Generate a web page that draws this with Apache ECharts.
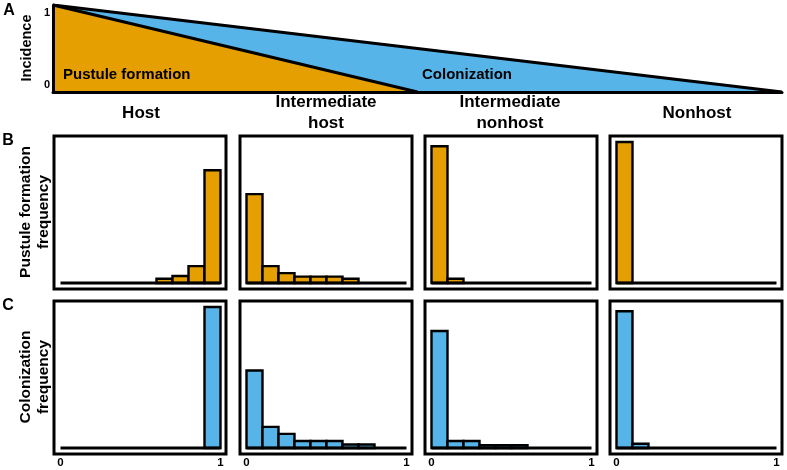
<!DOCTYPE html>
<html><head><meta charset="utf-8">
<script src="https://cdn.jsdelivr.net/npm/echarts@6/dist/echarts.min.js"></script>
<style>html,body{margin:0;padding:0;background:#fff}#c{width:787px;height:470px}</style>
</head><body><div id="c"></div>
<script>
// ---------- data ----------
const columns = ['Host', 'Intermediate\nhost', 'Intermediate\nnonhost', 'Nonhost'];
const rowLabels = ['Pustule formation\nfrequency', 'Colonization\nfrequency'];
const panelLetters = ['A', 'B', 'C'];
const binEdges = [0, 0.1, 0.2, 0.3, 0.4, 0.5, 0.6, 0.7, 0.8, 0.9, 1.0];
const pustuleHost       = [0, 0, 0, 0, 0, 0, 0.03, 0.05, 0.12, 0.80];
const pustuleIntHost    = [0.63, 0.12, 0.07, 0.045, 0.045, 0.045, 0.03, 0, 0, 0];
const pustuleIntNonhost = [0.97, 0.03, 0, 0, 0, 0, 0, 0, 0, 0];
const pustuleNonhost    = [1.0, 0, 0, 0, 0, 0, 0, 0, 0, 0];
const colonHost         = [0, 0, 0, 0, 0, 0, 0, 0, 0, 1.0];
const colonIntHost      = [0.55, 0.15, 0.10, 0.05, 0.05, 0.05, 0.025, 0.025, 0, 0];
const colonIntNonhost   = [0.83, 0.05, 0.05, 0.02, 0.02, 0.02, 0, 0, 0, 0];
const colonNonhost      = [0.97, 0.03, 0, 0, 0, 0, 0, 0, 0, 0];
// incidence gradient (panel A): [position along host range, incidence]
const pustuleIncidence = [[0, 1], [0.5, 0]];
const colonIncidence   = [[0, 1], [1, 0]];
const incidenceTicks = [0, 1];
const freqXTicks = [0, 1];
const panelNames = ['Pustule formation', 'Colonization'];

// ---------- style ----------
const ORANGE = '#E69F00', BLUE = '#56B4E9';
const FONT = '"Liberation Sans", Arial, sans-serif';
const rows = [
  {vals: [pustuleHost, pustuleIntHost, pustuleIntNonhost, pustuleNonhost], color: ORANGE, top: 136, labels: false},
  {vals: [colonHost, colonIntHost, colonIntNonhost, colonNonhost], color: BLUE, top: 301, labels: true}
];
const colLeft = [54, 240, 425, 610];
const FW = 172, FH = 153;
const padL = 6.5 / 160, padR = 5.5 / 160, padY = 6 / 141;

const grids = [], xAxes = [], yAxes = [], series = [];
// panel A
grids.push({left: 53, top: 5, width: 729, height: 87, containLabel: false, outerBoundsMode: 'none'});
xAxes.push({gridIndex: 0, type: 'value', min: 0, max: 1, z: 10,
  axisLine: {show: true, lineStyle: {color: '#000', width: 3}},
  axisTick: {show: false}, axisLabel: {show: false}, splitLine: {show: false}});
yAxes.push({gridIndex: 0, type: 'value', min: 0, max: 1, interval: 1, z: 10,
  axisLine: {show: true, lineStyle: {color: '#000', width: 3}},
  axisTick: {show: false}, splitLine: {show: false},
  axisLabel: {show: true, margin: 3, color: '#000', fontFamily: FONT, fontWeight: 'bold', fontSize: 11,
    customValues: incidenceTicks, verticalAlignMinLabel: 'bottom', verticalAlignMaxLabel: 'top',
    padding: [2, 0, 2, 0]}});
series.push({type: 'line', xAxisIndex: 0, yAxisIndex: 0, data: colonIncidence, symbol: 'none', z: 2,
  lineStyle: {color: '#000', width: 3}, areaStyle: {color: BLUE, opacity: 1}, silent: true});
series.push({type: 'line', xAxisIndex: 0, yAxisIndex: 0, data: pustuleIncidence, symbol: 'none', z: 3,
  lineStyle: {color: '#000', width: 3}, areaStyle: {color: ORANGE, opacity: 1}, silent: true});

function makeRender(color) {
  return function (params, api) {
    const i = api.value(0), v = api.value(1);
    if (!v) return null;
    const p0 = api.coord([binEdges[i], v]);
    const p1 = api.coord([binEdges[i + 1], 0]);
    return {type: 'rect', shape: {x: p0[0], y: p0[1], width: p1[0] - p0[0], height: p1[1] - p0[1]},
      style: {fill: color, stroke: '#000', lineWidth: 2.4}};
  };
}

let gi = 1;
rows.forEach(function (row) {
  row.vals.forEach(function (vals, c) {
    grids.push({left: colLeft[c], top: row.top, width: FW, height: FH, show: true,
      borderColor: '#000', borderWidth: 3, backgroundColor: 'transparent',
      containLabel: false, outerBoundsMode: 'none'});
    xAxes.push({gridIndex: gi, type: 'value', min: -padL, max: 1 + padR,
      axisLine: {show: false}, axisTick: {show: false}, splitLine: {show: false},
      axisLabel: {show: row.labels, customValues: freqXTicks, margin: 3, color: '#000',
        fontFamily: FONT, fontWeight: 'bold', fontSize: 11.5,
        formatter: function (v) { return String(Math.round(v)); }}});
    yAxes.push({gridIndex: gi, type: 'value', min: -padY, max: 1 + padY, show: false});
    series.push({type: 'custom', xAxisIndex: gi, yAxisIndex: gi, z: 2, silent: true,
      renderItem: makeRender(row.color), data: vals.map(function (v, i) { return [i, v]; })});
    series.push({type: 'line', xAxisIndex: gi, yAxisIndex: gi, z: 4, silent: true, symbol: 'none',
      lineStyle: {color: '#000', width: 3}, data: [[binEdges[0], 0], [binEdges[binEdges.length - 1], 0]]});
    gi++;
  });
});

// ---------- text ----------
const bold = function (size) { return 'bold ' + size + 'px ' + FONT; };
const graphic = [];
function txt(text, x, y, size, opts) {
  opts = opts || {};
  graphic.push({type: 'text', x: x, y: y, rotation: opts.rot || 0, silent: true, z: 100,
    style: {text: text, font: bold(size), fill: '#000', align: opts.align || 'center',
      verticalAlign: 'middle', lineHeight: opts.lh || size + 3}});
}
txt(panelLetters[0], 9, 11, 16);
txt(panelLetters[1], 8, 141, 16);
txt(panelLetters[2], 8, 306, 16);
txt('Incidence', 27, 48, 14.5, {rot: Math.PI / 2});
txt(panelNames[0], 63, 75, 15, {align: 'left'});
txt(panelNames[1], 422, 75, 15, {align: 'left'});
const headerX = [141, 326, 510, 697];
columns.forEach(function (c, i) { txt(c, headerX[i], 113, 17, {lh: 21}); });
txt(rowLabels[0], 35, 212, 15.5, {rot: Math.PI / 2, lh: 18});
txt(rowLabels[1], 35, 377, 15.5, {rot: Math.PI / 2, lh: 18});

const chart = echarts.init(document.getElementById('c'), null, {renderer: 'canvas'});
chart.setOption({animation: false, backgroundColor: '#fff', grid: grids, xAxis: xAxes, yAxis: yAxes,
  series: series, graphic: graphic});
</script>
</body></html>
